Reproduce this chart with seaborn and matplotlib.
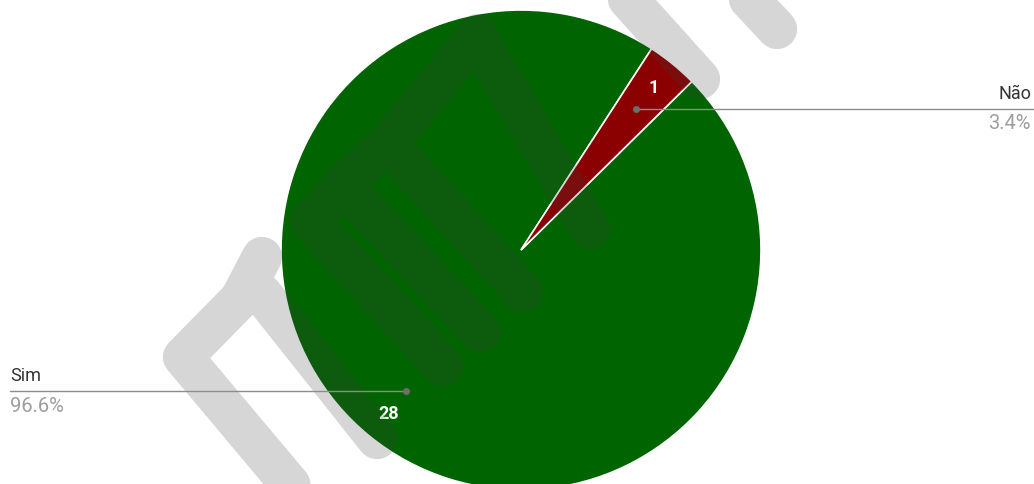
import numpy as np
import matplotlib
matplotlib.use('Agg')
import matplotlib.pyplot as plt
import seaborn as sns

# --- data ---
categories = ['Sim', 'Não']
counts = [28, 1]
slice_colors = ['#006400', '#8b0000']

# faint logo watermark over the screenshot (pixel coords, decoration only)
watermark_strokes = [
    [(340, 545), (183, 358), (240, 300), (262, 258)],
    [(377, 440), (262, 295)],
    [(443, 367), (310, 222), (345, 185)],
    [(480, 333), (343, 185), (387, 145)],
    [(523, 293), (388, 145), (478, 35)],
    [(590, 230), (478, 40)],
    [(700, 80), (610, -20)],
    [(777, 30), (735, -15)],
]

W, H = 1034, 485
cx, cy, R = 521, 251, 240

sns.set_theme(style='white')
plt.rcParams['font.family'] = ['Roboto', 'DejaVu Sans']

fig = plt.figure(figsize=(W / 100, H / 100), dpi=100)
ax = fig.add_axes([0, 0, 1, 1])

total = sum(counts)
# y axis runs downward, so increasing angle turns clockwise on screen
wedges, _, value_texts = ax.pie(
    counts, colors=slice_colors, startangle=45.4 - 90, counterclock=True,
    center=(cx, cy), radius=R,
    wedgeprops=dict(edgecolor='white', linewidth=1.2),
    autopct=lambda p: f'{round(p * total / 100)}', pctdistance=0.875,
    textprops=dict(color='white', fontsize=13))
for t in value_texts:
    t.set_fontweight('bold')

ax.set_xlim(0, W)
ax.set_ylim(H, 0)
ax.set_aspect('auto')
ax.axis('off')

# watermark
xs, ys = [], []
for stroke in watermark_strokes:
    for x, y in stroke:
        xs.append(x)
        ys.append(y)
    xs.append(np.nan)
    ys.append(np.nan)
ax.plot(xs, ys, color='#3e3e3e', alpha=0.21, lw=29,
        solid_capstyle='round', solid_joinstyle='round', zorder=3)

# leader lines with labels
for w, name, c in zip(wedges, categories, counts):
    mid = np.deg2rad((w.theta1 + w.theta2) / 2)
    px = cx + 0.76 * R * np.cos(mid)
    py = cy + 0.76 * R * np.sin(mid)
    if np.cos(mid) > 0:
        x_end, ha, tx = W, 'right', W - 3
    else:
        x_end, ha, tx = 10, 'left', 10
    ax.plot([px, x_end], [py, py], color='#8c8c8c', lw=1, zorder=4)
    ax.plot(px, py, 'o', color='#6e6e6e', ms=4, zorder=4)
    ax.text(tx, py - 16, name, ha=ha, va='center', fontsize=13,
            color='#333333', zorder=5)
    ax.text(tx, py + 14, f'{100 * c / total:.1f}%', ha=ha, va='center',
            fontsize=14.5, color='#9e9e9e', zorder=5)

fig.savefig('out.png', dpi=100)
